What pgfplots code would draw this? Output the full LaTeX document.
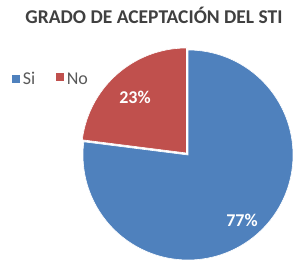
\documentclass[border=0pt]{standalone}
\usepackage{pgfplots}
\pgfplotsset{compat=1.18}
\usepackage{fontspec}
\setmainfont{Carlito}
\definecolor{siblue}{HTML}{4F81BD}
\definecolor{nored}{HTML}{C0504D}
\definecolor{titlegray}{HTML}{404040}
\definecolor{leggray}{HTML}{595959}
\def\vSi{77}
\def\vNo{23}
\begin{document}
\begin{tikzpicture}
\begin{axis}[
  width=305pt, height=272pt, scale only axis,
  xmin=-188, xmax=117, ymin=-117, ymax=155,
  hide axis, clip=false,
  legend style={at={(axis cs:-180,76)}, anchor=west, draw=none, fill=none,
    legend columns=2, font=\fontsize{18}{20}\selectfont\color{leggray},
    /tikz/every even column/.append style={column sep=18pt},
    nodes={inner sep=2pt}},
  legend image code/.code={\fill[#1] (0pt,-4.5pt) rectangle (9pt,4.5pt);},
]
\path[draw=none] (axis cs:-188,-117) rectangle (axis cs:117,155);
% blue slice (Si)
\addplot[fill=siblue, draw=white, line width=0.6pt, domain={90+3.6*\vNo}:450, samples=150]
  ({105*cos(x)},{105*sin(x)}) -- (axis cs:0,0) -- cycle;
% red slice (No), slightly exploded
\addplot[fill=nored, draw=white, line width=0.6pt, domain=90:{90+3.6*\vNo}, samples=60, shift={(-1.5pt,2pt)}]
  ({105*cos(x)},{105*sin(x)}) -- (axis cs:0,0) -- cycle;
\addlegendimage{fill=siblue}
\addlegendentry{Si}
\addlegendimage{fill=nored}
\addlegendentry{No}
\node[font=\fontsize{18}{20}\selectfont\bfseries, text=white] at (axis cs:-53,58) {23\%};
\node[font=\fontsize{18}{20}\selectfont\bfseries, text=white] at (axis cs:54,-65) {77\%};
\node[font=\fontsize{19.5}{22}\selectfont\bfseries, text=titlegray] at (axis cs:-34,140) {GRADO DE ACEPTACIÓN DEL STI};
\end{axis}
\end{tikzpicture}
\end{document}
